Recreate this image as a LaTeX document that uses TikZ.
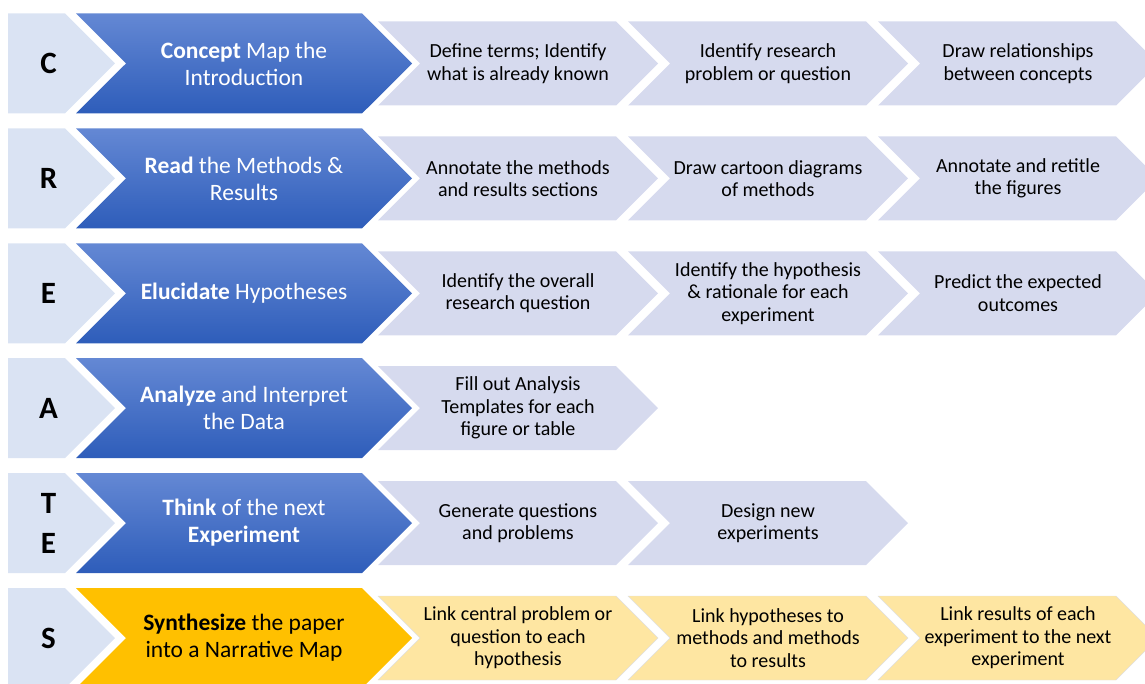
\documentclass[tikz,border=0pt]{standalone}
\usepackage{fontspec}
\setmainfont{Carlito}
\usetikzlibrary{shapes.symbols}
\usetikzlibrary{positioning}

\definecolor{letterfill}{RGB}{218,227,243}
\definecolor{bluetop}{RGB}{100,136,212}
\definecolor{bluebot}{RGB}{46,93,186}
\definecolor{stepfill}{RGB}{214,218,238}
\definecolor{goldfill}{RGB}{255,192,0}
\definecolor{palegold}{RGB}{254,230,162}

\tikzset{
  letterbox/.style={signal, signal to=east, signal pointer angle=90,
    fill=letterfill, inner sep=0pt,
    minimum width=107pt, minimum height=100pt},
  lettertext/.style={font=\fontsize{31}{40}\selectfont\bfseries,
    align=center, xshift=12pt},
  mainbox/.style={signal, signal to=east, signal from=west,
    signal pointer angle=90, inner sep=0pt,
    minimum width=336pt, minimum height=100pt,
    top color=bluetop, bottom color=bluebot, text=white,
    align=center, font=\fontsize{23.5}{27}\selectfont},
  goldbox/.style={mainbox, top color=goldfill, bottom color=goldfill,
    text=black},
  stepbox/.style={signal, signal to=east, signal from=west,
    signal pointer angle=90, inner sep=0pt,
    minimum width=280pt, minimum height=84pt, fill=stepfill,
    align=center, font=\fontsize{20}{22.5}\selectfont},
  palebox/.style={stepbox, fill=palegold, draw=black!12}
}

\begin{document}
\begin{tikzpicture}[node distance=114.9pt and 250pt,
      on grid]

    \useasboundingbox (0,0) rectangle (1145pt,-684pt);

    % row C
    \node[mainbox]
      (Cmain) at (244pt,-63.5pt) {\textbf{Concept} Map the\\Introduction};
    \node[letterbox, label={[lettertext]center:C}]
      (C) [left=207.5pt of Cmain] {};
    \node[stepbox]
      (C1) [right=274pt of Cmain] {Define terms; Identify\\what is already known};
    \node[stepbox]
      (C2) [right=of C1] {Identify research\\problem or question};
    \node[stepbox]
      (C3) [right=of C2] {Draw relationships\\between concepts};

    % row R
    \node[mainbox]
      (Rmain) [below=of Cmain] {\textbf{Read} the Methods \&\\Results};
    \node[letterbox, label={[lettertext]center:R}]
      (R) [below=of C] {};
    \node[stepbox]
      (R1) [below=of C1] {Annotate the methods\\and results sections};
    \node[stepbox]
      (R2) [below=of C2] {Draw cartoon diagrams\\of methods};
    \node[stepbox]
      (R3) [below=of C3] {Annotate and retitle\\the figures};

    % row E
    \node[mainbox]
      (Emain) [below=of Rmain] {\textbf{Elucidate} Hypotheses};
    \node[letterbox, label={[lettertext]center:E}]
      (E) [below=of R] {};
    \node[stepbox]
      (E1) [below=of R1] {Identify the overall\\research question};
    \node[stepbox]
      (E2) [below=of R2] {Identify the hypothesis\\\& rationale for each\\experiment};
    \node[stepbox]
      (E3) [below=of R3] {Predict the expected\\outcomes};

    % row A
    \node[mainbox]
      (Amain) [below=of Emain] {\textbf{Analyze} and Interpret\\the Data};
    \node[letterbox, label={[lettertext]center:A}]
      (A) [below=of E] {};
    \node[stepbox]
      (A1) [below=of E1] {Fill out Analysis\\Templates for each\\figure or table};

    % row T/E
    \node[mainbox]
      (Tmain) [below=of Amain] {\textbf{Think} of the next\\\textbf{Experiment}};
    \node[letterbox, label={[lettertext]center:T\\E}]
      (T) [below=of A] {};
    \node[stepbox]
      (T1) [below=of A1] {Generate questions\\and problems};
    \node[stepbox]
      (T2) [right=of T1] {Design new\\experiments};

    % row S
    \node[goldbox]
      (Smain) [below=of Tmain] {\textbf{Synthesize} the paper\\into a Narrative Map};
    \node[letterbox, label={[lettertext]center:S}]
      (S) [below=of T] {};
    \node[palebox]
      (S1) [below=of T1] {Link central problem or\\question to each\\hypothesis};
    \node[palebox]
      (S2) [right=of S1] {Link hypotheses to\\methods and methods\\to results};
    \node[palebox]
      (S3) [right=of S2] {Link results of each\\experiment to the next\\experiment};

  \end{tikzpicture}
\end{document}
